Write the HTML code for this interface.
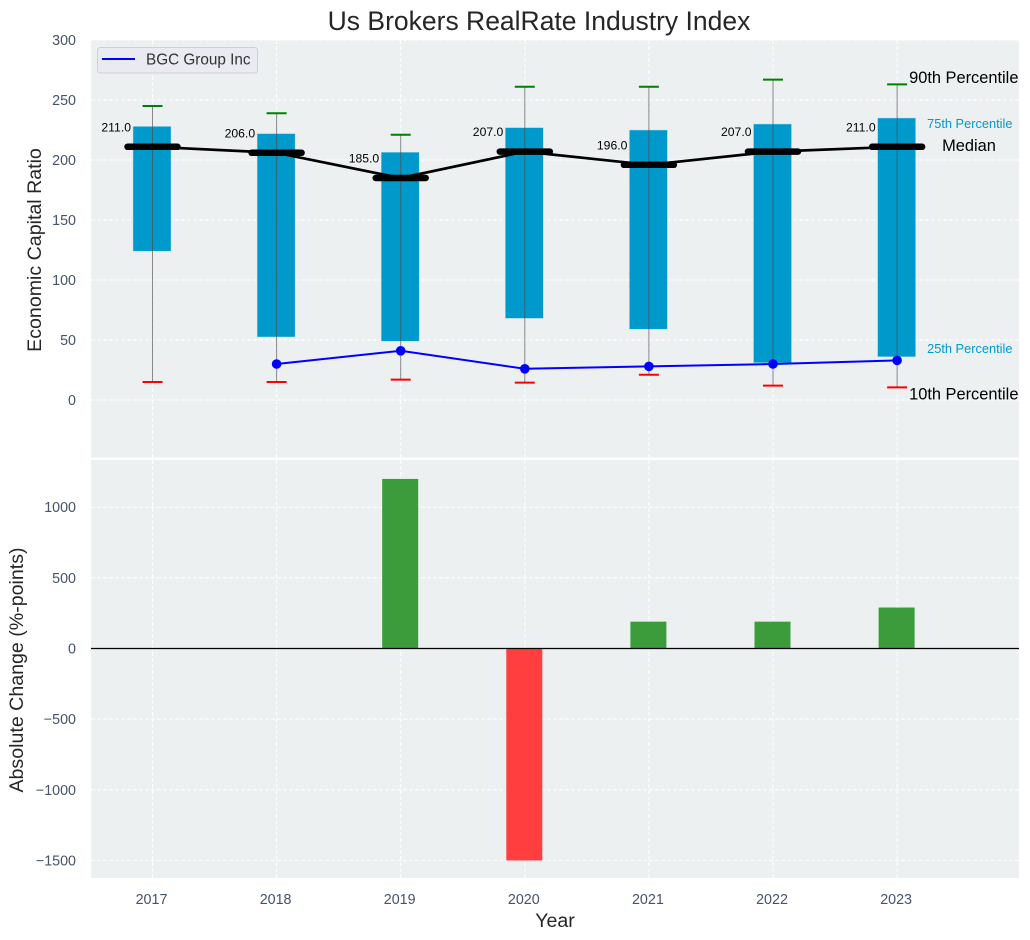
<!DOCTYPE html>
<html>
<head>
<meta charset="utf-8">
<title>Us Brokers RealRate Industry Index</title>
<style>
html,body{margin:0;padding:0;background:#fff;}
svg{display:block;font-family:"Liberation Sans",Arial,sans-serif;}
</style>
</head>
<body>
<svg id="chart" width="1030" height="940" viewBox="0 0 1030 940" xmlns="http://www.w3.org/2000/svg"></svg>
<script>
const years = [2017, 2018, 2019, 2020, 2021, 2022, 2023];
const p90 = [245, 239, 221, 261, 261, 267, 263];
const p75 = [228, 222, 206.5, 227, 225, 230, 235];
const median = [211, 206, 185, 207, 196, 207, 211];
const p25 = [124, 52.5, 49, 68, 59, 31, 36];
const p10 = [15, 15, 17, 14.5, 21, 12, 10.5];
const company = [null, 30, 41, 26, 28, 30, 33];
const change = [null, null, 1200, -1500, 190, 190, 290];
const topTicks = [0, 50, 100, 150, 200, 250, 300];
const bottomTicks = [-1500, -1000, -500, 0, 500, 1000];

const svg = document.getElementById('chart');
const NS = 'http://www.w3.org/2000/svg';
function add(tag, attrs, text, parent) {
  const el = document.createElementNS(NS, tag);
  for (const k in attrs) el.setAttribute(k, attrs[k]);
  if (text !== undefined && text !== null) el.textContent = text;
  (parent || svg).appendChild(el);
  return el;
}
const plotL = 91, plotR = 1019;
const topT = 40, topB = 457.5, botT = 460, botB = 878;
function xPos(year) { return 152.5 + (year - 2017) * 124.1; }
function yTop(v) { return 400 - v * 1.2; }
function yBot(v) { return 648.5 - v * 0.1413; }

let el;
el = add('rect', {x: plotL, y: topT, width: plotR - plotL, height: topB - topT, fill: '#ecf0f1'});


el = add('rect', {x: plotL, y: botT, width: plotR - plotL, height: botB - botT, fill: '#ecf0f1'});



const gridStyle = {stroke: '#ffffff', 'stroke-width': 1, 'stroke-dasharray': '4 2', opacity: 0.95};
topTicks.forEach(function (t) {
  const y = yTop(t);
  el = add('line', Object.assign({x1: plotL, x2: plotR, y1: y, y2: y}, gridStyle));
  
  
  el = add('text', {x: 76, y: y + 5, 'text-anchor': 'end', 'font-size': 14.3, fill: '#44546a'}, String(t));
  
  
});
bottomTicks.forEach(function (t) {
  const y = yBot(t);
  el = add('line', Object.assign({x1: plotL, x2: plotR, y1: y, y2: y}, gridStyle));
  
  
  el = add('text', {x: 76, y: y + 5, 'text-anchor': 'end', 'font-size': 14.3, fill: '#44546a'}, String(t).replace('-', '\u2212'));
  
  
});
years.forEach(function (yr) {
  const x = xPos(yr);
  el = add('line', Object.assign({x1: x, x2: x, y1: topT, y2: topB}, gridStyle));
  
  
  el = add('line', Object.assign({x1: x, x2: x, y1: botT, y2: botB}, gridStyle));
  
  
  el = add('text', {x: x - 1, y: 904, 'text-anchor': 'middle', 'font-size': 14.3, fill: '#44546a'}, String(yr));
  
  
});

/* percentile boxes */
years.forEach(function (yr, i) {
  const x = xPos(yr);
  el = add('rect', {x: x - 19.5, y: yTop(p75[i]), width: 38, height: yTop(p25[i]) - yTop(p75[i]), fill: '#0099cc', stroke: '#b5dcea', 'stroke-width': 0.5});
  
  
});
/* whiskers */
years.forEach(function (yr, i) {
  const x = xPos(yr);
  el = add('line', {x1: x, x2: x, y1: yTop(p90[i]), y2: yTop(p10[i]), stroke: '#4d4d4d', 'stroke-width': 1, opacity: 0.65});
  
  
  el = add('line', {x1: x - 10, x2: x + 10, y1: yTop(p90[i]), y2: yTop(p90[i]), stroke: '#008000', 'stroke-width': 2});
  
  
  el = add('line', {x1: x - 10, x2: x + 10, y1: yTop(p10[i]), y2: yTop(p10[i]), stroke: '#ff0000', 'stroke-width': 2});
  
  
});
/* median line */
el = add('polyline', {points: years.map(function (yr, i) { return xPos(yr) + ',' + yTop(median[i]); }).join(' '), fill: 'none', stroke: '#000', 'stroke-width': 2.7});


years.forEach(function (yr, i) {
  const x = xPos(yr), y = yTop(median[i]);
  el = add('line', {x1: x - 25, x2: x + 25, y1: y, y2: y, stroke: '#000', 'stroke-width': 6.5, 'stroke-linecap': 'round'});
  
  
  el = add('text', {x: x - 21.5, y: y - 15.5, 'text-anchor': 'end', 'font-size': 12.2, fill: '#000'}, median[i].toFixed(1));
  
  
});
/* company line */
const companyPts = [];
years.forEach(function (yr, i) {
  if (company[i] !== null) companyPts.push(xPos(yr) + ',' + yTop(company[i]));
});
el = add('polyline', {points: companyPts.join(' '), fill: 'none', stroke: '#0000ff', 'stroke-width': 2});


years.forEach(function (yr, i) {
  if (company[i] === null) return;
  el = add('circle', {cx: xPos(yr), cy: yTop(company[i]), r: 4.8, fill: '#0000ff'});
  
  
});
/* change bars */
years.forEach(function (yr, i) {
  if (change[i] === null) return;
  const x = xPos(yr), y0 = yBot(0), y1 = yBot(change[i]);
  el = add('rect', {x: x - 18.5, y: Math.min(y0, y1), width: 36, height: Math.abs(y1 - y0), fill: change[i] >= 0 ? '#3c9c3c' : '#ff3f3f'});
  
  
});
el = add('line', {x1: plotL, x2: plotR, y1: yBot(0), y2: yBot(0), stroke: '#000', 'stroke-width': 1.3});



/* percentile annotations anchored on the last year */
const last = years.length - 1;
const lx = xPos(years[last]);
el = add('text', {x: lx + 12, y: yTop(p90[last]) - 1.5, 'font-size': 16.4, fill: '#000'}, '90th Percentile');


el = add('text', {x: lx + 30, y: yTop(p75[last]) + 10, 'font-size': 12.8, fill: '#0099cc'}, '75th Percentile');


el = add('text', {x: lx + 45, y: yTop(median[last]) + 4, 'font-size': 16.4, fill: '#000'}, 'Median');


el = add('text', {x: lx + 30, y: yTop(p25[last]) - 4, 'font-size': 12.8, fill: '#0099cc'}, '25th Percentile');


el = add('text', {x: lx + 12, y: yTop(p10[last]) + 12, 'font-size': 16.4, fill: '#000'}, '10th Percentile');



/* titles */
el = add('text', {x: 539, y: 30, 'text-anchor': 'middle', 'font-size': 26.5, fill: '#262626'}, 'Us Brokers RealRate Industry Index');


el = add('text', {x: 41, y: 250, 'text-anchor': 'middle', 'font-size': 19.6, fill: '#262626', transform: 'rotate(-90 41 250)'}, 'Economic Capital Ratio');


el = add('text', {x: 23, y: 670, 'text-anchor': 'middle', 'font-size': 19.6, fill: '#262626', transform: 'rotate(-90 23 670)'}, 'Absolute Change (%-points)');


el = add('text', {x: 555, y: 927, 'text-anchor': 'middle', 'font-size': 19.6, fill: '#262626'}, 'Year');



/* legend */
const legend = add('g', {});


el = add('rect', {x: 97.5, y: 47.5, width: 160, height: 25.5, rx: 3, fill: '#eaeaf2', stroke: '#cfcfd4', 'stroke-width': 1}, null, legend);


el = add('line', {x1: 102, x2: 135, y1: 59, y2: 59, stroke: '#0000ff', 'stroke-width': 2}, null, legend);


el = add('text', {x: 146, y: 64.5, 'font-size': 15.3, fill: '#333'}, 'BGC Group Inc', legend);


</script>
</body>
</html>
